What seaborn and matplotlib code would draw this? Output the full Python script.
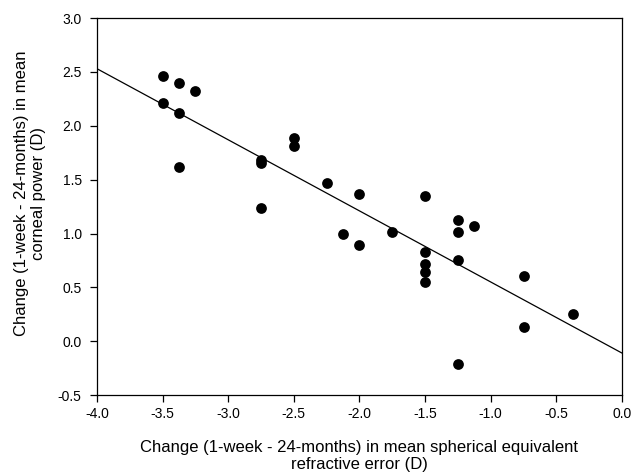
import numpy as np
import pandas as pd
import seaborn as sns
import matplotlib
import matplotlib.pyplot as plt

matplotlib.use('Agg')

# change in mean spherical equivalent refractive error (D)
ser_change = [-3.5, -3.5, -3.375, -3.375, -3.375, -3.25,
              -2.75, -2.75, -2.75, -2.5, -2.5,
              -2.25, -2.125, -2.0, -2.0, -1.75,
              -1.5, -1.5, -1.5, -1.5, -1.5,
              -1.25, -1.25, -1.25, -1.25, -1.125,
              -0.75, -0.75, -0.375]
# change in mean corneal power (D)
cp_change = [2.46, 2.21, 2.40, 2.12, 1.62, 2.32,
             1.68, 1.65, 1.24, 1.89, 1.81,
             1.47, 1.00, 1.37, 0.89, 1.01,
             1.35, 0.83, 0.72, 0.64, 0.55,
             1.13, 1.01, 0.75, -0.21, 1.07,
             0.61, 0.13, 0.25]

# regression line
fit_x = [-4.0, 0.0]
fit_y = [2.53, -0.11]

x_ticks = [-4.0, -3.5, -3.0, -2.5, -2.0, -1.5, -1.0, -0.5, 0.0]
y_ticks = [-0.5, 0.0, 0.5, 1.0, 1.5, 2.0, 2.5, 3.0]

df = pd.DataFrame({'ser': ser_change, 'cp': cp_change})

sns.set_style('ticks')
plt.rcParams['font.family'] = ['Liberation Sans', 'DejaVu Sans']
plt.rcParams['text.color'] = 'black'
plt.rcParams['axes.labelcolor'] = 'black'

fig = plt.figure(figsize=(6.31, 4.76), dpi=100)
ax = fig.add_axes([0.1537, 0.170, 0.832, 0.792])

sns.lineplot(x=fit_x, y=fit_y, color='black', linewidth=0.9, ax=ax)
sns.scatterplot(data=df, x='ser', y='cp', color='black', s=60,
                edgecolor='black', linewidth=0, ax=ax, zorder=3)

ax.set_xlim(-4.0, 0.0)
ax.set_ylim(-0.5, 3.0)
ax.set_xticks(x_ticks)
ax.set_yticks(y_ticks)
ax.set_xticklabels(['{:.1f}'.format(v) for v in x_ticks], fontsize=10)
ax.set_yticklabels(['{:.1f}'.format(v) for v in y_ticks], fontsize=10)
ax.tick_params(direction='out', length=5, width=0.9, colors='black',
               labelcolor='black')
ax.tick_params(axis='y', pad=6)
for sp in ax.spines.values():
    sp.set_linewidth(0.9)
    sp.set_color('black')

ax.set_xlabel('Change (1-week - 24-months) in mean spherical equivalent\nrefractive error (D)',
              fontsize=12, labelpad=14, linespacing=1.15)
ax.set_ylabel('Change (1-week - 24-months) in mean\ncorneal power (D)',
              fontsize=12, linespacing=1.15)
ax.yaxis.set_label_coords(-0.097, 0.535)

plt.savefig('out.png', dpi=100)
plt.close()
